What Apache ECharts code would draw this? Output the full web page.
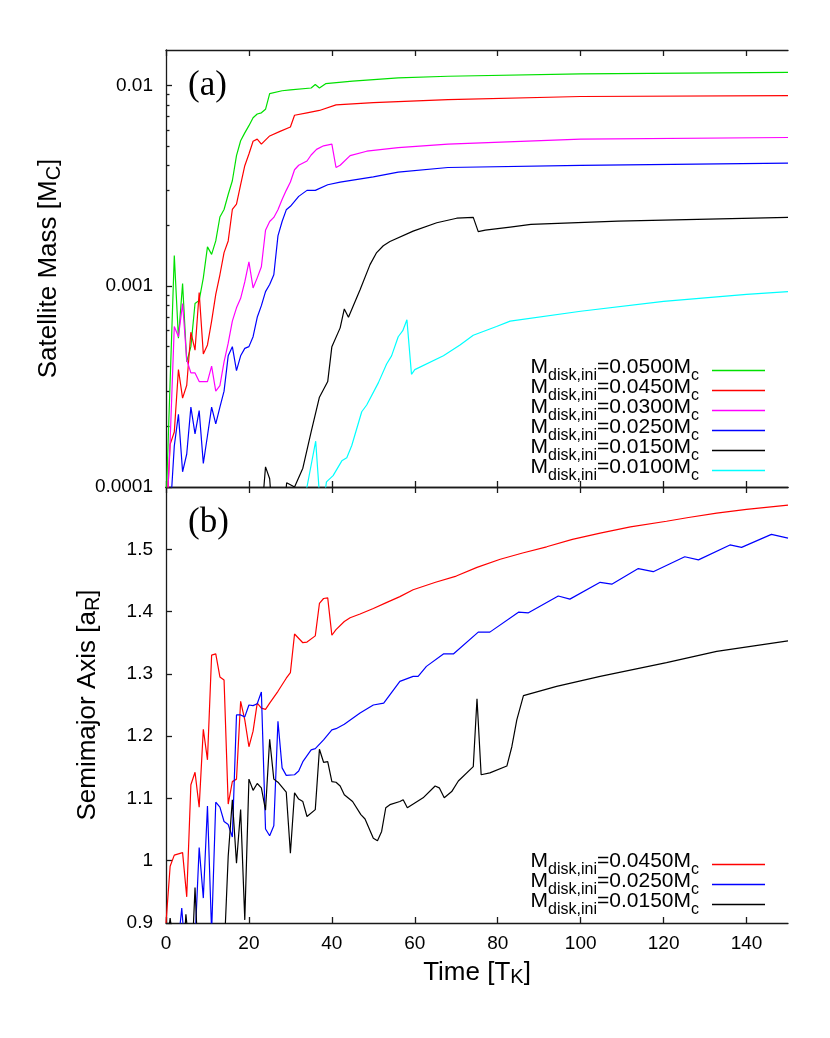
<!DOCTYPE html>
<html>
<head>
<meta charset="utf-8">
<script src="https://cdn.jsdelivr.net/npm/echarts@6/dist/echarts.min.js"></script>
<style>
  html, body { margin: 0; padding: 0; background: #fff; }
  #chart { width: 830px; height: 1038px; }
</style>
</head>
<body>
<div id="chart"></div>
<script>
// time axis ticks
const timeTicks = [0, 20, 40, 60, 80, 100, 120, 140];
const massTicks = [0.0001, 0.001, 0.01];
const semiTicks = [0.9, 1.0, 1.1, 1.2, 1.3, 1.4, 1.5];

// (a) satellite mass [t, M/Mc]
const mass0500 = [[0,0.00008],[2,0.00142],[3,0.00055],[4,0.00103],[5,0.00042],[6,0.0005],[7,0.00082],[8,0.00085],[9,0.0011],[10,0.00157],[11,0.00144],[12,0.00168],[13,0.00221],[14,0.00241],[15,0.00286],[16,0.00335],[17,0.00447],[18,0.0053],[19,0.0058],[20,0.0063],[21,0.0069],[22,0.0072],[23,0.0073],[24,0.0076],[25,0.0091],[28,0.0094],[30,0.0095],[35,0.0097],[36,0.0101],[37,0.0097],[38.5,0.0102],[45,0.0105],[56,0.0109],[68,0.0111],[100,0.0114],[150,0.0116]];
const mass0450 = [[0,0.00006],[0.5,0.0001],[1,0.000163],[2,0.000188],[3,0.000384],[4,0.000277],[5,0.000321],[6,0.00059],[7,0.00048],[8,0.00093],[9,0.00046],[10,0.00051],[11,0.00067],[12,0.00091],[13,0.00114],[14,0.00147],[15,0.00168],[16,0.00241],[17,0.00256],[18,0.0032],[19,0.00398],[20,0.00455],[21,0.00527],[22,0.0054],[23,0.0051],[25,0.0056],[27.5,0.0059],[30,0.0062],[31,0.0071],[34,0.0073],[37,0.0075],[41,0.008],[50,0.0082],[56,0.0083],[68,0.0085],[100,0.0088],[150,0.0089]];
const mass0300 = [[0,0.00006],[0.5,0.0001],[1,0.00017],[2,0.00063],[3,0.00056],[4,0.00082],[5,0.00043],[6,0.00037],[7,0.00037],[8,0.000335],[9,0.000335],[10,0.000335],[11,0.0004],[12,0.0003],[13,0.00032],[14,0.00042],[15,0.00052],[16,0.00067],[17,0.00078],[18,0.00087],[19,0.00105],[20,0.00132],[21,0.00098],[22,0.0011],[23,0.00125],[24,0.0019],[25,0.0021],[26,0.0022],[27,0.0024],[28,0.0027],[29,0.003],[30,0.0033],[31,0.0038],[32,0.004],[34,0.0042],[35,0.0045],[36.3,0.0048],[38,0.005],[40,0.0051],[41,0.0039],[42,0.004],[44.4,0.00447],[48.4,0.0047],[56,0.0049],[68,0.0051],[100,0.0054],[150,0.0055]];
const mass0250 = [[0,0.00005],[1.4,0.0001],[2,0.00016],[3,0.00023],[4,0.000119],[5,0.000146],[6,0.00025],[7,0.000184],[8,0.00024],[9,0.000131],[10,0.00018],[11,0.00025],[12,0.000206],[13,0.00025],[14,0.0003],[15,0.00045],[16,0.0005],[17,0.00038],[18,0.00045],[19,0.00049],[20,0.0005],[21,0.00056],[22,0.0007],[23,0.0008],[24,0.00094],[25,0.00102],[26,0.00114],[27,0.00178],[28,0.0021],[29,0.0024],[30,0.0025],[32,0.0028],[34,0.003],[36,0.003],[39,0.0032],[42,0.0033],[50,0.0035],[56,0.0037],[68,0.0039],[100,0.004],[150,0.0041]];
const mass0150 = [[23,0.00007],[24,0.000126],[25,0.00011],[25.5,0.00008],[28.8,0.00009],[29.1,0.000105],[31,0.0001],[33,0.000124],[35,0.000188],[37,0.00028],[39,0.000335],[40,0.0005],[42,0.00062],[43,0.00077],[44,0.0007],[46.8,0.00096],[49.2,0.00128],[50.8,0.00147],[52.4,0.00159],[54,0.00167],[59.6,0.00188],[65.3,0.00207],[70.1,0.00218],[74.1,0.0022],[75.3,0.00187],[77,0.0019],[83,0.00197],[88,0.00203],[109,0.00211],[150,0.0022]];
const mass0100 = [[33.5,0.00009],[34,0.0001],[36.1,0.000169],[37.2,0.00008],[38.2,0.00009],[38.7,0.000106],[40.3,0.000114],[42.4,0.000135],[43.6,0.00014],[44.8,0.000161],[47.2,0.000237],[48.4,0.000256],[51.2,0.00033],[53.2,0.00041],[54.4,0.00045],[56,0.00056],[57.1,0.0006],[58.1,0.00068],[59.2,0.000364],[60,0.000384],[66.9,0.00045],[70.9,0.00051],[74.1,0.00057],[79.7,0.00063],[83,0.00067],[100,0.00075],[120,0.00084],[140,0.00091],[150,0.00094]];

// (b) semimajor axis [t, a/aR]
const semi0450 = [[0,0.9],[1,0.991],[2,1.009],[4,1.013],[5,0.942],[6,1.122],[7,1.142],[8,1.086],[9,1.211],[10,1.162],[11,1.33],[12,1.332],[13,1.295],[14,1.29],[15,1.091],[16,1.127],[17,1.131],[18,1.256],[19,1.226],[20,1.183],[21,1.208],[22,1.253],[23,1.245],[24,1.243],[25,1.253],[27,1.272],[29,1.293],[30,1.302],[31,1.364],[33,1.35],[34,1.351],[36,1.361],[37,1.413],[38,1.421],[39,1.422],[40,1.362],[41,1.371],[43,1.384],[44.4,1.39],[46.8,1.396],[50,1.405],[53,1.414],[56.4,1.424],[59.6,1.435],[65,1.447],[70,1.457],[75,1.471],[80.6,1.484],[86,1.494],[91.8,1.504],[98,1.516],[104.7,1.526],[112,1.536],[120.7,1.545],[126,1.551],[132.8,1.558],[140,1.564],[150,1.571]];
const semi0250 = [[0,0.85],[3,0.87],[3.8,0.924],[4.3,0.88],[7,0.87],[8,1.021],[9,0.94],[10,1.088],[11,0.885],[12,1.094],[13,1.086],[14,1.063],[15,1.058],[16,1.038],[17,1.234],[18,1.234],[19,1.231],[20,1.25],[21,1.249],[22,1.252],[23,1.271],[24,1.051],[25,1.04],[26,1.056],[27,1.224],[28,1.149],[29,1.137],[31,1.138],[32,1.144],[33,1.159],[35,1.178],[36,1.18],[38,1.194],[40,1.21],[41,1.212],[43,1.219],[46.8,1.237],[50,1.25],[52.5,1.253],[56.4,1.288],[59.6,1.296],[60.8,1.296],[62.8,1.312],[66.9,1.332],[69.3,1.332],[75.3,1.367],[78.1,1.367],[85,1.399],[87.4,1.398],[94.6,1.425],[97.4,1.42],[104.7,1.447],[107.5,1.444],[113.9,1.469],[117.5,1.464],[125.1,1.488],[128.4,1.483],[136,1.507],[138.8,1.503],[146,1.524],[150,1.518]];
const semi0150 = [[0,0.85],[1,0.908],[1.5,0.88],[4.5,0.88],[4.8,0.914],[5.3,0.88],[6.5,0.88],[7,0.957],[7.5,0.88],[14.2,0.88],[15,1.007],[16,1.098],[17,0.996],[18,1.082],[19,0.905],[20,1.131],[21,1.113],[22,1.124],[23,1.117],[24,1.081],[25,1.195],[26,1.131],[27,1.126],[29,1.11],[30,1.012],[31,1.109],[32,1.099],[33,1.095],[34,1.071],[36,1.082],[37,1.179],[38,1.158],[39,1.159],[40,1.127],[41,1.126],[42,1.12],[43,1.106],[45,1.095],[47,1.074],[48,1.067],[50,1.036],[51,1.032],[52,1.047],[53,1.085],[54,1.09],[56.4,1.095],[57.2,1.098],[58.2,1.085],[62,1.101],[64.9,1.12],[65.9,1.117],[67.1,1.101],[68.9,1.111],[70.5,1.128],[74.1,1.151],[75,1.26],[76,1.138],[78.1,1.141],[82.2,1.152],[83.4,1.183],[84.6,1.226],[86.2,1.265],[94.2,1.28],[104.7,1.296],[120.7,1.318],[132.8,1.336],[150,1.353]];

// minor ticks of the log axis: 2..9 per decade
const massMinorTicks = [];
[-4, -3, -2].forEach(function (e) {
  for (let k = 2; k <= 9; k++) {
    const v = +(k * Math.pow(10, e)).toPrecision(3);
    if (v < 0.015) massMinorTicks.push(v);
  }
});

const font = 'Liberation Sans, Arial, sans-serif';
const ink = '#1a1a1a';
const frame = { lineStyle: { color: ink, width: 1.3 } };

const nameRich = {
  m: { fontSize: 26, lineHeight: 28, verticalAlign: 'top', fontFamily: font, color: '#000' },
  s: { fontSize: 20, lineHeight: 20, verticalAlign: 'bottom', padding: [14, 0, 0, 0], fontFamily: font, color: '#000' }
};
// legend text is always middle aligned, so the subscript drop comes from padding
const legendRich = {
  m: { fontSize: 21, lineHeight: 20, padding: [0, 0, 6, 0], fontFamily: font, color: '#000' },
  s: { fontSize: 16, lineHeight: 16, padding: [10, 0, 0, 0], fontFamily: font, color: '#000' }
};

function xAx(grid, pos, labels) {
  return {
    gridIndex: grid, type: 'value', position: pos, min: 0, max: 150,
    axisLine: { show: true, onZero: false, lineStyle: frame.lineStyle },
    axisTick: { inside: true, length: 6, customValues: timeTicks, lineStyle: frame.lineStyle },
    axisLabel: { show: labels, customValues: timeTicks, fontSize: 19, margin: 11, color: '#000', fontFamily: font },
    splitLine: { show: false }
  };
}

function line(name, data, color, xi, yi) {
  return {
    name: name, type: 'line', data: data, xAxisIndex: xi, yAxisIndex: yi,
    symbol: 'none', showSymbol: false, clip: true,
    lineStyle: { color: color, width: 1.2 }, itemStyle: { color: color }
  };
}

const legendBase = {
  orient: 'vertical', align: 'right', right: 65, padding: 0,
  icon: 'rect', itemWidth: 53, itemHeight: 1.5, itemGap: -7,
  formatter: function (n) { return '{m|M}{s|disk,ini}{m|=' + n + 'M}{s|c}'; },
  textStyle: { padding: [0, 8, 0, 0], rich: legendRich }
};

const chart = echarts.init(document.getElementById('chart'));
chart.setOption({
  animation: false,
  backgroundColor: '#fff',
  grid: [
    { left: 166, top: 50, width: 622, height: 437 },
    { left: 166, top: 487, width: 622, height: 436 }
  ],
  xAxis: [
    xAx(0, 'bottom', false),
    xAx(0, 'top', false),
    Object.assign(xAx(1, 'bottom', true), {
      name: '{m|Time [T}{s|K}{m|]}', nameLocation: 'middle', nameGap: 34,
      nameTextStyle: { rich: nameRich }
    }),
    xAx(1, 'top', false)
  ],
  yAxis: [
    {
      gridIndex: 0, type: 'log', logBase: 10, position: 'left', min: 0.0001, max: 0.015,
      axisLine: { show: true, lineStyle: frame.lineStyle },
      axisTick: { inside: true, length: 6, customValues: massTicks, lineStyle: frame.lineStyle },
      axisLabel: { customValues: massTicks, fontSize: 19, margin: 13, color: '#000', fontFamily: font,
        formatter: function (v) { return String(+(+v).toPrecision(3)); } },
      splitLine: { show: false },
      name: '{m|Satellite Mass [M}{s|C}{m|]}', nameLocation: 'middle', nameRotate: 90, nameGap: 102,
      nameTextStyle: { rich: nameRich }
    },
    {
      gridIndex: 0, type: 'log', logBase: 10, position: 'left', min: 0.0001, max: 0.015,
      axisLine: { show: false },
      axisTick: { inside: true, length: 3.5, customValues: massMinorTicks, lineStyle: frame.lineStyle },
      axisLabel: { show: false },
      splitLine: { show: false }
    },
    {
      gridIndex: 1, type: 'value', position: 'left', min: 0.9, max: 1.6,
      axisLine: { show: true, onZero: false, lineStyle: frame.lineStyle },
      axisTick: { inside: true, length: 6, customValues: semiTicks, lineStyle: frame.lineStyle },
      axisLabel: { customValues: semiTicks, fontSize: 19, margin: 13, color: '#000', fontFamily: font,
        formatter: function (v) { return String(+(+v).toFixed(1)); } },
      splitLine: { show: false },
      name: '{m|Semimajor Axis [a}{s|R}{m|]}', nameLocation: 'middle', nameRotate: 90, nameGap: 63,
      nameTextStyle: { rich: nameRich }
    }
  ],
  legend: [
    Object.assign({}, legendBase, { top: 357, data: ['0.0500', '0.0450', '0.0300', '0.0250', '0.0150', '0.0100'] }),
    Object.assign({}, legendBase, { top: 851, data: ['0.0450', '0.0250', '0.0150'] })
  ],
  graphic: [
    { type: 'text', left: 188, top: 68, style: { text: '(a)', font: '35px "Liberation Serif", "Times New Roman", serif', fill: '#000' } },
    { type: 'text', left: 188, top: 505, style: { text: '(b)', font: '35px "Liberation Serif", "Times New Roman", serif', fill: '#000' } }
  ],
  series: [
    line('0.0500', mass0500, '#00e000', 0, 0),
    line('0.0450', mass0450, '#ff0000', 0, 0),
    line('0.0300', mass0300, '#ff00ff', 0, 0),
    line('0.0250', mass0250, '#0000ff', 0, 0),
    line('0.0150', mass0150, '#000000', 0, 0),
    line('0.0100', mass0100, '#00ffff', 0, 0),
    line('0.0450', semi0450, '#ff0000', 2, 2),
    line('0.0250', semi0250, '#0000ff', 2, 2),
    line('0.0150', semi0150, '#000000', 2, 2)
  ]
});
</script>
</body>
</html>
